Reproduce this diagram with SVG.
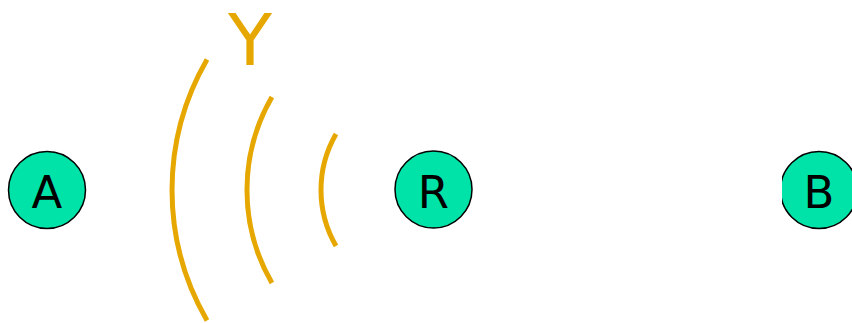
<svg xmlns="http://www.w3.org/2000/svg" width="852" height="323" viewBox="0 0 852 323">
  <style>
    .node circle { fill: #00E3A8; stroke: #000; stroke-width: 1.5; }
    .node text { font-family: "DejaVu Sans", sans-serif; font-size: 45px; fill: #000; text-anchor: middle; }
    .wave { fill: none; stroke: #E6A800; stroke-width: 5; stroke-linecap: butt; }
    .label { font-family: "DejaVu Sans", sans-serif; font-size: 72px; fill: #E6A800; text-anchor: middle; }
  </style>
  <defs>
    <clipPath id="clipB"><rect x="782" y="0" width="80" height="323"/></clipPath>
  </defs>
  <rect width="852" height="323" fill="#fff"/>
  <g id="connectors">
    <path class="wave" d="M 336 134 A 112 112 0 0 0 336 246"/>
    <path class="wave" d="M 271.9 97 A 186 186 0 0 0 271.9 283"/>
    <path class="wave" d="M 207 59.5 A 261 261 0 0 0 207 320.5"/>
  </g>
  <g id="Y"><text class="label" x="250" y="65">Y</text></g>
  <g id="A" class="node"><circle cx="47" cy="190" r="38.5"/><text x="47" y="208">A</text></g>
  <g id="R" class="node"><circle cx="433.5" cy="189.5" r="38.5"/><text x="433.5" y="208">R</text></g>
  <g id="B" class="node"><circle cx="819" cy="190" r="38.5" clip-path="url(#clipB)"/><text x="819" y="208">B</text></g>
</svg>
